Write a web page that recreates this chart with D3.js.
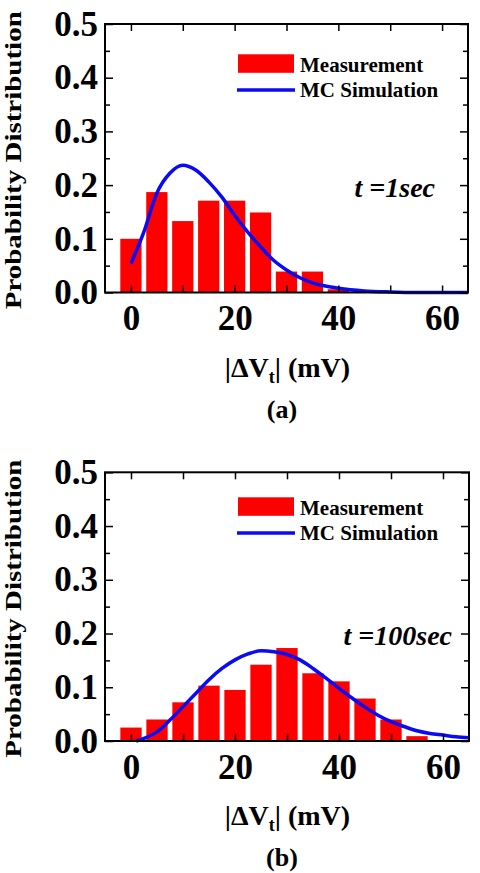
<!DOCTYPE html>
<html>
<head>
<meta charset="utf-8">
<script src="https://cdn.jsdelivr.net/npm/d3@7"></script>
<style>
  body { margin: 0; background: #fff; }
  svg { display: block; }
  .axis text { font-family: "Liberation Serif", "Times New Roman", serif; font-weight: bold; fill: #000; }
  .axis line { stroke: #000; stroke-width: 1.5; }
  .axis .domain { display: none; }
  .lbl { font-family: "Liberation Serif", "Times New Roman", serif; font-weight: bold; fill: #000; }
</style>
</head>
<body>
<script>
// histogram bin centres (mV)
const binCenters = [0, 5, 10, 15, 20, 25, 30, 35, 40, 45, 50, 55];

// measured distribution, t = 1 s
const measA = [0.100, 0.187, 0.133, 0.171, 0.171, 0.149, 0.039, 0.039, 0.006];
// measured distribution, t = 100 s
const measB = [0.025, 0.040, 0.072, 0.103, 0.095, 0.142, 0.173, 0.126, 0.111, 0.079, 0.040, 0.009];

// MC simulation curve, t = 1 s
const simXA = [0, 2.5, 5, 7.5, 10, 12.5, 15, 17.5, 20, 22.5, 25, 27.5, 30, 32.5, 35, 37.5, 40, 45, 50, 55, 60, 65];
const simYA = [0.054, 0.113, 0.185, 0.222, 0.237, 0.228, 0.206, 0.178, 0.144, 0.113, 0.085, 0.060, 0.042, 0.028, 0.018, 0.012, 0.008, 0.003, 0.001, 0, 0, 0];

// MC simulation curve, t = 100 s
const simXB = [1, 2.5, 5, 7.5, 10, 12.5, 15, 17.5, 20, 22.5, 25, 27.5, 30, 32.5, 35, 37.5, 40, 42.5, 45, 47.5, 50, 52.5, 55, 57.5, 60, 62.5, 65];
const simYB = [0.000, 0.005, 0.017, 0.039, 0.064, 0.089, 0.114, 0.135, 0.151, 0.162, 0.168, 0.166, 0.161, 0.151, 0.135, 0.117, 0.098, 0.080, 0.063, 0.048, 0.036, 0.027, 0.019, 0.014, 0.011, 0.008, 0.006];

const xMajor = [0, 20, 40, 60];
const xMinor = [10, 30, 50];
const yMajor = [0, 0.1, 0.2, 0.3, 0.4, 0.5];
const yMinor = [0.05, 0.15, 0.25, 0.35, 0.45];
const legendLabels = ["Measurement", "MC Simulation"];
const timeLabels = ["t =1sec", "t =100sec"];
const panelLabels = ["(a)", "(b)"];
const yTitle = "Probability Distribution";

const svg = d3.select("body").append("svg")
    .attr("width", 480)
    .attr("height", 873);

const panels = [
    {top: 24, bottom: 292.5, left: 105, right: 468, legendY: 54.3, panelLabelY: 418,
     bars: measA, simX: simXA, simY: simYA, time: timeLabels[0], name: panelLabels[0], timeX: 435},
    {top: 472.3, bottom: 741, left: 105, right: 469, legendY: 497.3, panelLabelY: 866,
     bars: measB, simX: simXB, simY: simYB, time: timeLabels[1], name: panelLabels[1], timeX: 452}
];

panels.forEach(p => drawPanel(p));

function drawPanel(p) {
    const x = d3.scaleLinear().domain([-5, 65]).range([p.left, p.right]);
    const y = d3.scaleLinear().domain([0, 0.5]).range([p.bottom, p.top]);
    const g = svg.append("g");

    // bars
    g.selectAll(".bar")
        .data(p.bars.map((v, i) => ({c: binCenters[i], v: v})))
        .join("rect")
        .attr("class", "bar")
        .attr("x", d => x(d.c - 2.05))
        .attr("width", d => x(d.c + 2.05) - x(d.c - 2.05))
        .attr("y", d => y(d.v))
        .attr("height", d => y(0) - y(d.v))
        .attr("fill", "#ff0000");

    // simulation curve
    const line = d3.line()
        .x(d => x(d[0]))
        .y(d => y(d[1]))
        .curve(d3.curveMonotoneX);
    g.append("path")
        .datum(p.simX.map((v, i) => [v, p.simY[i]]))
        .attr("d", line)
        .attr("fill", "none")
        .attr("stroke", "#0a0af5")
        .attr("stroke-width", 3.5);

    // axes (ticks inward on all four sides)
    g.append("g").attr("class", "axis")
        .attr("transform", `translate(0,${p.bottom})`)
        .call(d3.axisBottom(x).tickValues(xMajor).tickSize(-7).tickPadding(13).tickFormat(d3.format("d")))
        .selectAll("text").style("font-size", "35px");
    g.append("g").attr("class", "axis")
        .attr("transform", `translate(0,${p.bottom})`)
        .call(d3.axisBottom(x).tickValues(xMinor).tickSize(-7).tickFormat(""));
    g.append("g").attr("class", "axis")
        .attr("transform", `translate(0,${p.top})`)
        .call(d3.axisTop(x).tickValues(xMajor.concat(xMinor)).tickSize(-7).tickFormat(""));

    g.append("g").attr("class", "axis")
        .attr("transform", `translate(${p.left},0)`)
        .call(d3.axisLeft(y).tickValues(yMajor).tickSize(-8).tickPadding(7).tickFormat(d3.format(".1f")))
        .selectAll("text").style("font-size", "35px");
    g.append("g").attr("class", "axis")
        .attr("transform", `translate(${p.left},0)`)
        .call(d3.axisLeft(y).tickValues(yMinor).tickSize(-5).tickFormat(""));
    g.append("g").attr("class", "axis")
        .attr("transform", `translate(${p.right},0)`)
        .call(d3.axisRight(y).tickValues(yMajor).tickSize(-8).tickFormat(""));
    g.append("g").attr("class", "axis")
        .attr("transform", `translate(${p.right},0)`)
        .call(d3.axisRight(y).tickValues(yMinor).tickSize(-5).tickFormat(""));

    // frame
    g.append("rect")
        .attr("x", p.left).attr("y", p.top)
        .attr("width", p.right - p.left).attr("height", p.bottom - p.top)
        .attr("fill", "none").attr("stroke", "#000").attr("stroke-width", 2);

    // legend
    g.append("rect")
        .attr("x", 238).attr("y", p.legendY)
        .attr("width", 56).attr("height", 18.5)
        .attr("fill", "#ff0000");
    g.append("line")
        .attr("x1", 237).attr("x2", 295)
        .attr("y1", p.legendY + 35.7).attr("y2", p.legendY + 35.7)
        .attr("stroke", "#0a0af5").attr("stroke-width", 3.5);
    g.selectAll(".leg")
        .data(legendLabels)
        .join("text")
        .attr("class", "lbl leg")
        .attr("x", 300)
        .attr("y", (d, i) => p.legendY + 17.4 + i * 25)
        .style("font-size", "21px")
        .text(d => d);

    // time annotation
    g.append("text")
        .attr("class", "lbl")
        .attr("x", p.timeX)
        .attr("y", p.top + 172.7)
        .attr("text-anchor", "end")
        .style("font-size", "28px")
        .style("font-style", "italic")
        .text(p.time);

    // y title
    g.append("text")
        .attr("class", "lbl")
        .attr("transform", `translate(21,${(p.top + p.bottom) / 2 + 2}) rotate(-90)`)
        .attr("text-anchor", "middle")
        .attr("textLength", 298)
        .attr("lengthAdjust", "spacingAndGlyphs")
        .style("font-size", "23px")
        .text(yTitle);

    // x title |ΔVt| (mV)
    const xt = g.append("text")
        .attr("class", "lbl")
        .attr("x", 287.5)
        .attr("y", p.bottom + 84)
        .attr("text-anchor", "middle")
        .style("font-size", "28px");
    xt.append("tspan").text("|\u0394V");
    xt.append("tspan").attr("dy", 6).style("font-size", "18px").text("t");
    xt.append("tspan").attr("dy", -6).text("| (mV)");

    // panel label
    g.append("text")
        .attr("class", "lbl")
        .attr("x", 282)
        .attr("y", p.panelLabelY)
        .attr("text-anchor", "middle")
        .style("font-size", "26px")
        .text(p.name);
}
</script>
</body>
</html>
